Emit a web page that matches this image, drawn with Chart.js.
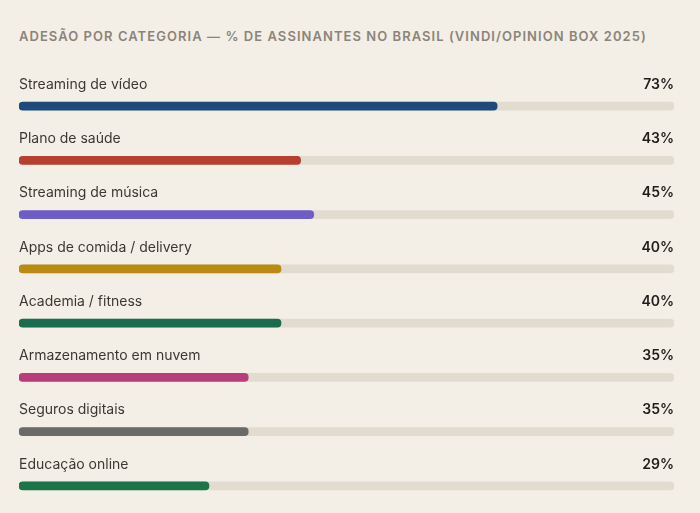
<!DOCTYPE html>
<html lang="pt-BR">
<head>
    <meta charset="UTF-8">
    <title>Adesão por categoria</title>
    <script src="https://cdn.jsdelivr.net/npm/chart.js"></script>
    <style>
        html, body {
            margin: 0;
            padding: 0;
            background: #f3efe7;
        }
        body {
            width: 700px;
            height: 513px;
            position: relative;
            overflow: hidden;
            font-family: Inter, "Noto Sans", sans-serif;
        }
        #titulo {
            position: absolute;
            left: 19px;
            top: 28px;
            margin: 0;
            font-size: 13px;
            font-weight: 600;
            letter-spacing: 1.05px;
            color: #8b8478;
            white-space: nowrap;
        }
        #wrap {
            position: absolute;
            left: 0;
            top: 0;
            width: 700px;
            height: 513px;
        }
    </style>
</head>
<body>
    <h1 id="titulo">ADESÃO POR CATEGORIA — % DE ASSINANTES NO BRASIL (VINDI/OPINION BOX 2025)</h1>
    <div id="wrap"><canvas id="barras"></canvas></div>

    <script>
        // dados
        const categorias = ['Streaming de vídeo', 'Plano de saúde', 'Streaming de música', 'Apps de comida / delivery',
            'Academia / fitness', 'Armazenamento em nuvem', 'Seguros digitais', 'Educação online'];
        const valores = [73, 43, 45, 40, 40, 35, 35, 29];
        const cores = ['#1f4a7a', '#b63f30', '#6f5cc6', '#b98b12', '#1b6b4e', '#b93d7a', '#6a6a68', '#1d7449'];
        const fundo = categorias.map(() => 100);

        // rótulo acima de cada barra + percentual à direita
        const rotulos = {
            id: 'rotulos',
            afterDatasetsDraw(chart) {
                const ctx = chart.ctx;
                const y = chart.scales.y;
                const area = chart.chartArea;
                ctx.save();
                ctx.textBaseline = 'middle';
                categorias.forEach((c, i) => {
                    const py = y.getPixelForValue(i) - 21.5;
                    ctx.font = '400 14px Inter, "Noto Sans", sans-serif';
                    ctx.fillStyle = '#3b3833';
                    ctx.textAlign = 'left';
                    ctx.fillText(c, area.left, py);
                    ctx.font = '600 14px Inter, "Noto Sans", sans-serif';
                    ctx.fillStyle = '#1f1d1a';
                    ctx.textAlign = 'right';
                    ctx.fillText(valores[i] + '%', area.right, py);
                });
                ctx.restore();
            }
        };

        const ctx = document.getElementById('barras').getContext('2d');
        new Chart(ctx, {
            type: 'bar',
            data: {
                labels: categorias,
                datasets: [{
                    data: valores,
                    backgroundColor: cores,
                    barThickness: 8,
                    borderRadius: 4,
                    borderSkipped: false,
                    grouped: false,
                    order: 0
                }, {
                    data: fundo,
                    backgroundColor: '#e2dbcf',
                    barThickness: 8,
                    borderRadius: 4,
                    borderSkipped: false,
                    grouped: false,
                    order: 1
                }]
            },
            options: {
                indexAxis: 'y',
                responsive: true,
                maintainAspectRatio: false,
                animation: false,
                layout: { padding: { top: 79, left: 19, right: 26, bottom: 0 } },
                plugins: {
                    legend: { display: false },
                    tooltip: { enabled: false }
                },
                scales: {
                    x: { display: false, min: 0, max: 100 },
                    y: { display: false }
                }
            },
            plugins: [rotulos]
        });
    </script>
</body>
</html>
